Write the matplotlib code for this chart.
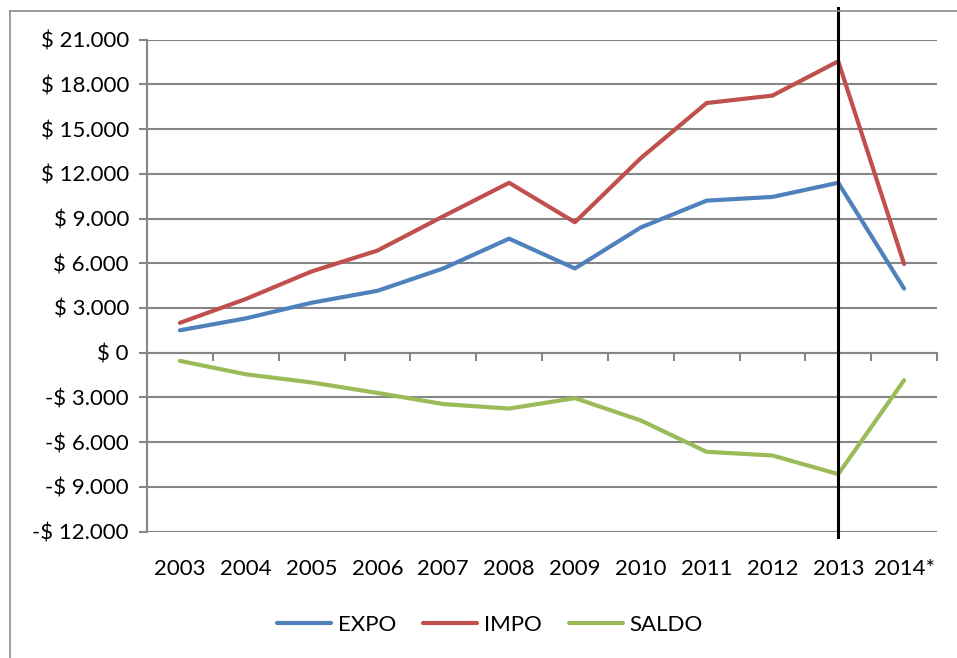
import matplotlib
matplotlib.use("Agg")
import matplotlib.pyplot as plt
from matplotlib.lines import Line2D
from matplotlib.ticker import FuncFormatter

years = ["2003", "2004", "2005", "2006", "2007", "2008", "2009",
         "2010", "2011", "2012", "2013", "2014*"]
expo = [1500, 2300, 3350, 4150, 5650, 7650, 5650, 8400, 10200, 10450, 11400, 4300]
impo = [2000, 3600, 5450, 6850, 9150, 11400, 8750, 13050, 16750, 17250, 19550, 5950]
saldo = [-550, -1450, -2000, -2700, -3450, -3750, -3050, -4550, -6650, -6900, -8150, -1850]
y_ticks = list(range(-12000, 21001, 3000))
mark_year = 10  # index of 2013 (vertical line)

grey = "#868686"
plt.rcParams['font.family'] = ['Lato', 'DejaVu Sans']
fontsize = 16


def money(v, pos=None):
    s = "{:,.0f}".format(abs(v)).replace(",", ".")
    return ("-$ " if v < 0 else "$ ") + s


fig = plt.figure(figsize=(9.57, 6.58), dpi=100)
ax = fig.add_axes([147 / 957, 1 - 531.5 / 658, 790 / 957, (531.5 - 39.7) / 658])

x = list(range(len(years)))
ax.plot(x, expo, color="#4F81BD", lw=3, label="EXPO", solid_capstyle="round")
ax.plot(x, impo, color="#C0504D", lw=3, label="IMPO", solid_capstyle="round")
ax.plot(x, saldo, color="#9BBB59", lw=3, label="SALDO", solid_capstyle="round")

ax.axvline(mark_year, ymin=-0.012, ymax=1.065, color="black", lw=2.2, clip_on=False)

ax.set_xlim(-0.5, len(years) - 0.5)
ax.set_ylim(y_ticks[0], y_ticks[-1])
ax.set_yticks(y_ticks)
ax.yaxis.set_major_formatter(FuncFormatter(money))
ax.grid(axis="y", color=grey, lw=1.5)
ax.set_axisbelow(True)

for side in ["top", "right", "bottom"]:
    ax.spines[side].set_visible(False)
ax.spines["left"].set_color(grey)
ax.spines["left"].set_linewidth(1.5)
ax.tick_params(axis="y", direction="out", length=6, width=1.5, color=grey,
               labelsize=fontsize, pad=7)

ax.set_xticks(x)
ax.set_xticklabels(years)
ax.tick_params(axis="x", length=0, labelsize=fontsize, pad=20)

# category boundary ticks on the zero line
zero_pos = (0 - y_ticks[0]) / (y_ticks[-1] - y_ticks[0])
sec = ax.secondary_xaxis(zero_pos)
sec.set_xticks([i - 0.5 for i in range(len(years) + 1)])
sec.set_xticklabels([])
sec.tick_params(axis="x", direction="out", length=6, width=1.5, color=grey)
sec.spines["bottom"].set_color(grey)
sec.spines["bottom"].set_linewidth(1.5)

fig.legend(loc="center", bbox_to_anchor=(0.512, 0.05), ncol=3, frameon=False,
           fontsize=fontsize, handlelength=2.45, columnspacing=1.2, handletextpad=0.3)

# outer chart border
fig.add_artist(Line2D([9.5 / 957, 9.5 / 957], [0, 1 - 11 / 658], color="#8c8c8c", lw=1.2))
fig.add_artist(Line2D([9.5 / 957, 1], [1 - 11 / 658, 1 - 11 / 658], color="#8c8c8c", lw=1.2))

plt.savefig("out.png", dpi=100)
